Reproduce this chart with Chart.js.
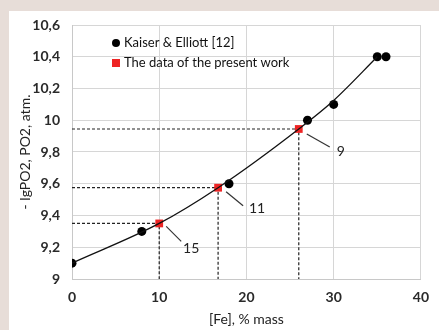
<!DOCTYPE html>
<html>
<head>
<meta charset="utf-8">
<style>
  html, body { margin: 0; padding: 0; background: #e7ddd8; }
  #wrap { width: 439px; height: 330px; }
</style>
<script src="https://cdn.jsdelivr.net/npm/chart.js@4"></script>
</head>
<body>
<div id="wrap"><canvas id="c" width="439" height="330"></canvas></div>
<script>
// ---- data ----
const kaiserX = [0, 8, 18, 27, 30, 35, 36];
const kaiserY = [9.1, 9.3, 9.6, 10.0, 10.1, 10.4, 10.4];
const presentX = [10, 16.75, 26];
const presentY = [9.35, 9.575, 9.945];
const presentLabels = ['15', '11', '9'];
const curveX = [0, 10, 16.75, 26, 30, 35];
const curveY = [9.1, 9.35, 9.575, 9.945, 10.125, 10.4];
const xTickLabels = ['0', '10', '20', '30', '40'];
const yTickLabels = ['9', '9,2', '9,4', '9,6', '9,8', '10', '10,2', '10,4', '10,6'];
const seriesNames = ['Kaiser & Elliott [12]', 'The data of the present work'];
const xTitle = '[Fe], % mass';
const yTitle = '- lgPO2, PO2, atm.';

// ---- styles ----
const RED = '#ee2424';
const leaderStyle = [
  {x1: 7, y1: 3, x2: 22, y2: 18, tx: 32, ty: 25},
  {x1: 8, y1: 4, x2: 25, y2: 18, tx: 39, ty: 21},
  {x1: 8, y1: 5, x2: 31, y2: 18, tx: 42, ty: 23}
];

const pts = (xs, ys) => xs.map((x, i) => ({x: x, y: ys[i]}));

const guideSets = presentX.map((x, i) => ({
  label: 'guide' + i,
  data: [{x: 0, y: presentY[i]}, {x: x, y: presentY[i]}, {x: x, y: 9}],
  showLine: true,
  borderColor: '#222',
  borderWidth: 1.2,
  borderDash: [3, 2],
  pointRadius: 0,
  fill: false,
  order: 5
}));

const bgPlugin = {
  id: 'bg',
  beforeDraw(chart) {
    const ctx = chart.ctx;
    ctx.save();
    ctx.fillStyle = '#e7ddd8';
    ctx.fillRect(0, 0, chart.width, chart.height);
    ctx.fillStyle = '#ffffff';
    ctx.fillRect(9, 11, chart.width - 9, chart.height - 11);
    ctx.restore();
  }
};

const annoPlugin = {
  id: 'anno',
  afterDatasetsDraw(chart) {
    const ctx = chart.ctx;
    const xs = chart.scales.x, ys = chart.scales.y;
    ctx.save();
    ctx.strokeStyle = '#333';
    ctx.lineWidth = 1.2;
    ctx.fillStyle = '#222';
    ctx.font = '14px Lato';
    ctx.textAlign = 'center';
    ctx.textBaseline = 'middle';
    presentX.forEach((x, i) => {
      const px = xs.getPixelForValue(x), py = ys.getPixelForValue(presentY[i]);
      const s = leaderStyle[i];
      ctx.beginPath();
      ctx.moveTo(px + s.x1, py + s.y1);
      ctx.lineTo(px + s.x2, py + s.y2);
      ctx.stroke();
      ctx.fillText(presentLabels[i], px + s.tx, py + s.ty);
    });
    // legend
    const lx = 116, ly1 = 43, ly2 = 63;
    ctx.fillStyle = '#000';
    ctx.beginPath();
    ctx.arc(lx, ly1, 4, 0, Math.PI * 2);
    ctx.fill();
    ctx.fillStyle = RED;
    ctx.fillRect(lx - 4, ly2 - 4, 8, 8);
    ctx.fillStyle = '#111';
    ctx.font = '13px Lato';
    ctx.textAlign = 'left';
    ctx.fillText(seriesNames[0], 124, ly1);
    ctx.fillText(seriesNames[1], 124, ly2);
    ctx.restore();
  }
};

new Chart(document.getElementById('c'), {
  type: 'scatter',
  data: {
    datasets: [
      {
        label: 'curve',
        data: pts(curveX, curveY),
        showLine: true,
        borderColor: '#111',
        borderWidth: 1.3,
        pointRadius: 0,
        cubicInterpolationMode: 'monotone',
        fill: false,
        order: 1
      },
      {
        label: seriesNames[0],
        data: pts(kaiserX, kaiserY),
        pointStyle: 'circle',
        pointRadius: 4.5,
        backgroundColor: '#000',
        borderColor: '#000',
        borderWidth: 0,
        order: 2
      },
      {
        label: seriesNames[1],
        data: pts(presentX, presentY),
        pointStyle: 'rect',
        pointRadius: 5.5,
        backgroundColor: RED,
        borderColor: RED,
        borderWidth: 0,
        order: 3
      },
      ...guideSets
    ]
  },
  options: {
    responsive: false,
    animation: false,
    devicePixelRatio: 1,
    layout: { padding: { left: 0, top: 25, right: 13, bottom: 0 } },
    plugins: { legend: { display: false }, tooltip: { enabled: false } },
    scales: {
      x: {
        type: 'linear',
        min: 0, max: 40,
        afterFit(s) { s.height = 51; },
        ticks: {
          stepSize: 10,
          padding: 10,
          color: '#2a2a2a',
          font: { family: 'Lato', size: 14, weight: 'bold' },
          callback: (v) => xTickLabels[Math.round(v / 10)]
        },
        grid: { color: '#d6d6d6', lineWidth: 1, drawTicks: false },
        border: { color: '#c8c8c8', width: 1 },
        title: {
          display: true, text: xTitle, color: '#222',
          font: { family: 'Lato', size: 14 },
          padding: { top: 0, bottom: 2 }
        }
      },
      y: {
        type: 'linear',
        min: 9, max: 10.6,
        afterFit(s) { s.width = 72; },
        afterBuildTicks(s) {
          s.ticks = yTickLabels.map((t, i) => ({ value: 9 + i * 0.2 }));
        },
        ticks: {
          padding: 12,
          color: '#2a2a2a',
          font: { family: 'Lato', size: 14, weight: 'bold' },
          callback: (v, i) => yTickLabels[i]
        },
        grid: { color: '#d6d6d6', lineWidth: 1, drawTicks: false },
        border: { color: '#c8c8c8', width: 1 },
        title: {
          display: true, text: yTitle, color: '#222',
          font: { family: 'Lato', size: 14 },
          padding: { top: 17, bottom: 0 }
        }
      }
    }
  },
  plugins: [bgPlugin, annoPlugin]
});
</script>
</body>
</html>
